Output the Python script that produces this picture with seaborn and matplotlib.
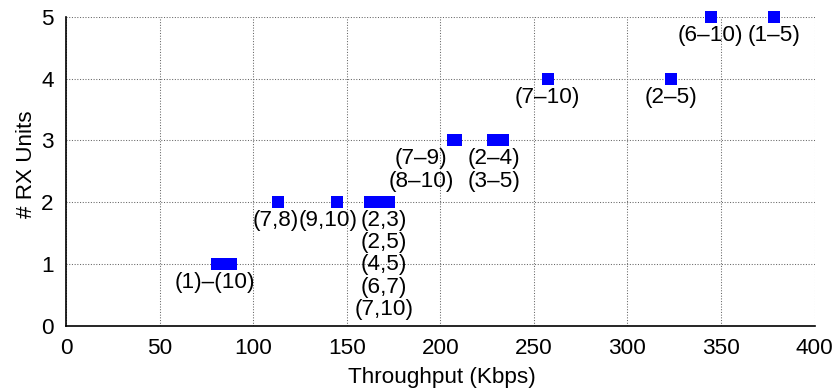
import numpy as np
import pandas as pd
import matplotlib
matplotlib.use("Agg")
import matplotlib.pyplot as plt
import seaborn as sns

# ---- data -------------------------------------------------------------
# throughput (Kbps) of each measured configuration, grouped by label
g1_x = [80.3, 81.0, 81.9, 82.7, 83.6, 84.4, 85.3, 86.2, 87.0, 87.8]   # (1)-(10), 1 unit
g2_x = [113.4]                                                        # (7,8), 2 units
g3_x = [144.5]                                                        # (9,10), 2 units
g4_x = [162.1, 164.8, 167.3, 169.9, 172.4]                            # pairs, 2 units
g5_x = [206.6, 208.6]                                                 # (7-9),(8-10), 3 units
g6_x = [228.0, 233.6]                                                 # (2-4),(3-5), 3 units
g7_x = [257.3]                                                        # (7-10), 4 units
g8_x = [323.4]                                                        # (2-5), 4 units
g9_x = [344.4]                                                        # (6-10), 5 units
g10_x = [378.6]                                                       # (1-5), 5 units

group_x = [g1_x, g2_x, g3_x, g4_x, g5_x, g6_x, g7_x, g8_x, g9_x, g10_x]
group_units = [1, 2, 2, 2, 3, 3, 4, 4, 5, 5]
group_labels = [
    "(1)–(10)",
    "(7,8)",
    "(9,10)",
    "(2,3)\n(2,5)\n(4,5)\n(6,7)\n(7,10)",
    "(7–9)\n(8–10)",
    "(2–4)\n(3–5)",
    "(7–10)",
    "(2–5)",
    "(6–10)",
    "(1–5)",
]
# horizontal label shift relative to the group centre (pixels)
label_dx = [-8.5, -3, -8.5, 4.5, -33.4, -4.4, 0, 0, 0, 0]

x_ticks = [0, 50, 100, 150, 200, 250, 300, 350, 400]
y_ticks = [0, 1, 2, 3, 4, 5]

rows = []
for gi, (xs, u) in enumerate(zip(group_x, group_units)):
    for x in xs:
        rows.append({"throughput": x, "units": u, "group": gi})
df = pd.DataFrame(rows)

# ---- figure -----------------------------------------------------------
sns.set_style("white")
plt.rcParams["font.family"] = ["Liberation Sans", "DejaVu Sans"]
plt.rcParams["text.color"] = "black"
plt.rcParams["axes.labelcolor"] = "black"
FS = 16.2

W, H = 839, 390
fig = plt.figure(figsize=(W / 100, H / 100), dpi=100)
L, R, T, B = 66.3, 814.5, 17.0, 325.5
ax = fig.add_axes([L / W, (H - B) / H, (R - L) / W, (B - T) / H])

sns.scatterplot(data=df, x="throughput", y="units", ax=ax, marker="s",
                s=70, color="#0000ff", linewidth=0, zorder=3, legend=False,
                clip_on=False)

ax.set_xlim(0, 400)
ax.set_ylim(0, 5)
ax.set_xticks(x_ticks)
ax.set_yticks(y_ticks)
ax.grid(True, color="#666666", linestyle=(0, (1, 1.6)), linewidth=0.75)
ax.set_axisbelow(True)
for side in ["top", "right"]:
    ax.spines[side].set_visible(False)
for side in ["left", "bottom"]:
    ax.spines[side].set_color("black")
    ax.spines[side].set_linewidth(1.2)
ax.tick_params(axis="both", direction="in", length=4, width=1,
               labelsize=FS, colors="black", labelcolor="black", pad=9)

ax.set_xlabel("Throughput (Kbps)", fontsize=FS, color="black")
ax.set_ylabel("# RX Units", fontsize=FS, color="black")
ax.xaxis.set_label_coords(0.502, -0.135)
ax.yaxis.set_label_coords(-0.0394, 0.524)

for xs, u, lab, dx in zip(group_x, group_units, group_labels, label_dx):
    cx = (min(xs) + max(xs)) / 2
    ax.annotate(lab, xy=(cx, u), xytext=(dx * 0.72, -5.8),
                textcoords="offset points", ha="center", va="top",
                fontsize=FS, linespacing=1.07, color="black", zorder=4)

fig.savefig("out.png", dpi=100)
